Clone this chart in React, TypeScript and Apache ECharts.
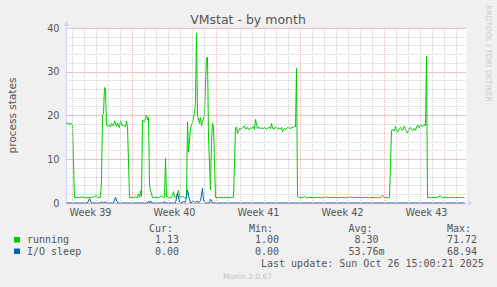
import React, { useEffect, useRef } from 'react';
import * as echarts from 'echarts';

// x values: hours since Mon 22 Sep 2025 00:00 (start of ISO week 39)
const TITLE = 'VMstat - by month';
const Y_NAME = 'process states';
const X_MIN_H = 36;
const X_MAX_H = 836;
const HOURS_PER_DAY = 24;
const HOURS_PER_WEEK = 168;
const WEEK_LABELS = ['Week 39', 'Week 40', 'Week 41', 'Week 42', 'Week 43'];
const WEEK_LABEL_HOURS = [84, 252, 420, 588, 756];
const Y_LABELS = [0, 10, 20, 30, 40];

const RUNNING: [number, number][] = [
  [36, 18.0], [38, 18.4], [40, 18.1], [42, 17.9], [44, 18.3], [46, 18.0], [48, 17.9], [50, 9.0], [52, 1.2],
  [58, 1.3], [62, 1.2], [68, 1.4], [74, 1.2], [80, 1.3], [86, 1.2], [92, 1.5], [96, 1.7], [98, 1.2], [104, 1.3],
  [106, 5.0], [108, 20.1], [110, 20.5], [112, 26.4], [114, 26.0], [116, 17.8], [118, 17.5], [120, 18.0], [124, 17.4],
  [126, 18.2], [130, 17.6], [132, 18.8], [136, 17.5], [138, 18.3], [142, 17.2], [144, 18.7], [148, 17.6], [150, 17.8],
  [154, 17.4], [156, 18.7], [158, 17.5], [162, 1.2],
  [166, 1.3], [170, 1.2], [174, 1.4], [178, 1.2], [180, 2.0], [182, 1.3], [184, 2.8], [186, 1.5], [188, 19.0],
  [192, 18.5], [194, 19.5], [196, 20.1], [198, 19.0], [200, 19.6], [202, 4.1], [204, 3.0], [208, 1.2], [214, 1.3],
  [220, 1.2], [226, 1.6], [230, 1.2], [232, 1.3], [234, 10.2], [236, 1.5], [242, 1.3], [246, 1.2], [250, 2.6],
  [252, 1.3], [256, 1.4], [260, 2.9], [262, 1.3], [268, 1.5], [272, 1.2], [276, 1.3], [278, 18.6], [280, 11.7],
  [284, 17.1], [286, 17.8], [288, 18.4], [292, 20.5], [294, 23.0], [296, 38.8], [298, 20.0], [302, 18.2], [304, 19.5],
  [306, 17.6], [308, 18.6], [312, 20.0], [314, 27.0], [316, 33.2], [318, 33.3], [320, 15.0], [324, 3.0], [326, 14.0],
  [328, 18.2], [330, 17.2], [334, 1.3],
  [338, 1.2], [344, 1.3], [350, 1.2], [356, 1.3], [362, 1.2], [368, 1.3], [370, 1.2], [374, 17.1], [376, 17.4],
  [378, 15.9], [382, 17.0], [384, 16.8], [388, 17.3], [392, 17.6], [394, 16.9], [398, 17.3], [400, 16.7], [404, 17.2],
  [406, 17.0], [410, 17.5], [412, 16.8], [414, 19.1], [418, 17.0], [420, 17.4], [424, 16.9], [426, 17.2], [430, 17.0],
  [432, 17.3], [436, 16.8], [438, 17.1], [442, 17.3], [444, 17.0], [446, 18.2], [448, 17.1], [452, 16.9], [454, 17.4],
  [458, 16.8], [460, 17.2], [464, 16.9], [466, 17.3], [468, 16.3], [472, 17.1], [474, 16.8], [478, 17.2], [480, 17.5],
  [484, 16.9], [486, 17.3], [490, 17.3], [492, 17.6], [494, 17.4], [496, 30.8], [498, 1.45],
  [502, 1.3], [508, 1.2], [512, 1.5], [516, 1.2], [522, 1.3], [530, 1.2], [538, 1.3], [546, 1.2], [554, 1.4],
  [562, 1.2], [570, 1.3], [578, 1.2], [586, 1.3], [594, 1.2], [602, 1.4], [610, 1.2], [618, 1.3], [626, 1.2],
  [634, 1.3], [642, 1.2], [650, 1.3], [658, 1.2], [664, 1.3], [668, 1.8], [672, 1.3], [678, 1.2], [682, 1.3],
  [686, 16.5], [688, 16.9], [692, 16.4], [694, 17.5], [698, 16.2], [702, 17.0], [704, 17.3], [708, 16.6], [712, 17.6],
  [714, 16.8], [718, 16.0], [722, 17.0], [724, 17.3], [728, 16.5], [732, 17.1], [734, 16.6], [738, 17.8], [742, 17.2],
  [744, 18.0], [748, 17.5], [752, 18.0], [754, 17.6], [756, 33.5], [758, 1.2],
  [766, 1.3], [772, 1.2], [778, 1.3], [784, 1.6], [788, 1.2], [794, 1.3], [800, 1.2], [806, 1.3], [812, 1.2],
  [818, 1.3], [824, 1.2], [828, 1.3], [832, 1.13],
];

const IO_SLEEP: [number, number][] = [
  [36, 0], [78, 0], [82, 1.0], [86, 0], [104, 0], [106, 0.3], [110, 0], [114, 0.3], [118, 0], [130, 0], [134, 1.3],
  [138, 0], [198, 0], [200, 0.4], [202, 0], [204, 0.5], [206, 0], [230, 0], [232, 0.4], [234, 0], [254, 0],
  [258, 2.3], [262, 0.2], [264, 0], [270, 0.3], [274, 0.2], [276, 1.5], [278, 3.0], [282, 0.8], [284, 0], [290, 0.4],
  [294, 0], [298, 0.5], [300, 0], [304, 0.5], [308, 3.4], [310, 0.5], [314, 0], [322, 0], [324, 0.9], [328, 0],
  [832, 0],
];

const SERIES_NAMES = ['running', 'I/O sleep'];
const SERIES_COLORS = ['#00cc00', '#0066b3'];
const COL_HEADERS = ['Cur:', 'Min:', 'Avg:', 'Max:'];
const CUR = ['1.13', '0.00'];
const MIN = ['1.00', '0.00'];
const AVG = ['8.30', '53.76m'];
const MAX = ['71.72', '68.94'];
const LAST_UPDATE = 'Last update: Sun Oct 26 15:00:21 2025';
const VERSION = 'Munin 2.0.67';
const WATERMARK = 'RRDTOOL / TOBI OETIKER';

const FONT = '"DejaVu Sans", sans-serif';
const MONO = '"DejaVu Sans Mono", monospace';
const TXT = '#555555';
const AXIS = '#cfd6f8';
const MINOR = '#cfcfcf';
const MAJOR = '#e89a9a';
const MAJOR_V = '#f0b0b0';

export default function App() {
  const ref = useRef<HTMLDivElement>(null);
  useEffect(() => {
    const chart = echarts.init(ref.current!, undefined, { renderer: 'svg', width: 497, height: 287 });
    const CW = 6.02;
    const colRight = [185, 285, 384.6, 483];
    const rowY = [239.5, 251];
    const graphics: any[] = [];
    COL_HEADERS.forEach((h, i) => {
      graphics.push({ type: 'text', x: colRight[i] - 6 * CW, y: 228.3, style: { text: h, fill: TXT, font: `10px ${MONO}`, verticalAlign: 'middle' } });
    });
    const cols = [CUR, MIN, AVG, MAX];
    SERIES_NAMES.forEach((name, r) => {
      graphics.push({ type: 'rect', shape: { x: 14, y: rowY[r] - 2.5, width: 6, height: 5.5 }, style: { fill: SERIES_COLORS[r] } });
      graphics.push({ type: 'text', x: 27, y: rowY[r], style: { text: name, fill: TXT, font: `10px ${MONO}`, verticalAlign: 'middle' } });
      cols.forEach((col, c) => {
        const v = col[r];
        const hasUnit = /[a-zA-Z]$/.test(v);
        const len = v.length + (hasUnit ? 0 : 1);
        graphics.push({ type: 'text', x: colRight[c] - len * CW, y: rowY[r], style: { text: v, fill: TXT, font: `10px ${MONO}`, verticalAlign: 'middle' } });
      });
    });
    graphics.push({ type: 'text', x: 261, y: 263.5, style: { text: LAST_UPDATE, fill: TXT, font: `10px ${MONO}`, verticalAlign: 'middle' } });
    graphics.push({ type: 'text', x: 247.5, y: 276.5, style: { text: VERSION, fill: '#c4c4c4', font: `7.5px ${FONT}`, align: 'center', verticalAlign: 'middle' } });
    graphics.push({ type: 'text', x: 488.5, y: 53.5, rotation: -Math.PI / 2, style: { text: WATERMARK, fill: '#cccccc', font: `7.5px ${FONT}`, align: 'center', verticalAlign: 'middle' } });
    graphics.push({ type: 'text', x: 248, y: 19.5, style: { text: TITLE, fill: TXT, font: `12.5px ${FONT}`, align: 'center', verticalAlign: 'middle' } });

    // vertical grid: one dotted line per day, red at week boundaries
    const dayLines: any[] = [];
    for (let h = X_MIN_H + 12; h < X_MAX_H; h += HOURS_PER_DAY) {
      const major = h % HOURS_PER_WEEK === 0;
      dayLines.push({ xAxis: h, lineStyle: { color: major ? MAJOR_V : MINOR, type: [1, 1], width: 1 } });
    }

    chart.setOption({
      animation: false,
      backgroundColor: '#f0f0f0',
      grid: { left: 66.5, right: 30.5, top: 28, bottom: 84, show: true, backgroundColor: '#ffffff', borderWidth: 0, containLabel: false, outerBoundsMode: 'none' },
      xAxis: {
        type: 'value', min: X_MIN_H, max: X_MAX_H, interval: 12,
        axisLine: { show: true, onZero: false, lineStyle: { color: AXIS, width: 1 }, symbol: ['none', 'triangle'], symbolSize: [5, 5], symbolOffset: [0, 4] },
        axisTick: { show: false },
        splitLine: { show: false },
        axisLabel: {
          show: true, interval: 0, hideOverlap: false, margin: 4, color: TXT, fontSize: 9.7, fontFamily: FONT,
          formatter: (v: number) => { const i = WEEK_LABEL_HOURS.indexOf(v); return i >= 0 ? WEEK_LABELS[i] : ''; },
        },
      },
      yAxis: [
        {
          type: 'value', min: 0, max: 40, interval: 2,
          name: Y_NAME, nameLocation: 'middle', nameGap: 49, nameRotate: 90,
          nameTextStyle: { color: TXT, fontSize: 10.5, fontFamily: FONT },
          axisLine: { show: true, lineStyle: { color: AXIS, width: 1 }, symbol: ['none', 'triangle'], symbolSize: [5, 5], symbolOffset: [0, 4.5] },
          axisTick: { show: false },
          splitLine: { show: true, lineStyle: { color: MINOR, type: [1, 1], width: 1 } },
          axisLabel: {
            margin: 7, color: TXT, fontSize: 9.7, fontFamily: FONT,
            formatter: (v: number) => (Y_LABELS.indexOf(v) >= 0 ? String(v) : ''),
          },
          z: 1,
        },
        {
          type: 'value', min: 0, max: 40, interval: 10, position: 'left',
          axisLine: { show: false }, axisTick: { show: false }, axisLabel: { show: false },
          splitLine: { show: true, lineStyle: { color: MAJOR, type: [1, 1], width: 1 } },
          z: 2,
        },
      ],
      series: [
        {
          name: 'grid', type: 'line', data: [], z: 1, silent: true,
          markLine: { silent: true, symbol: ['none', 'none'], label: { show: false }, animation: false, data: dayLines },
        },
        { name: SERIES_NAMES[0], type: 'line', data: RUNNING, symbol: 'none', lineStyle: { color: SERIES_COLORS[0], width: 1 }, z: 3 },
        { name: SERIES_NAMES[1], type: 'line', data: IO_SLEEP, symbol: 'none', lineStyle: { color: SERIES_COLORS[1], width: 1 }, z: 4 },
      ],
      graphic: graphics,
    });
    return () => chart.dispose();
  }, []);
  return <div ref={ref} style={{ position: 'fixed', left: 0, top: 0, width: 497, height: 287 }} />;
}
